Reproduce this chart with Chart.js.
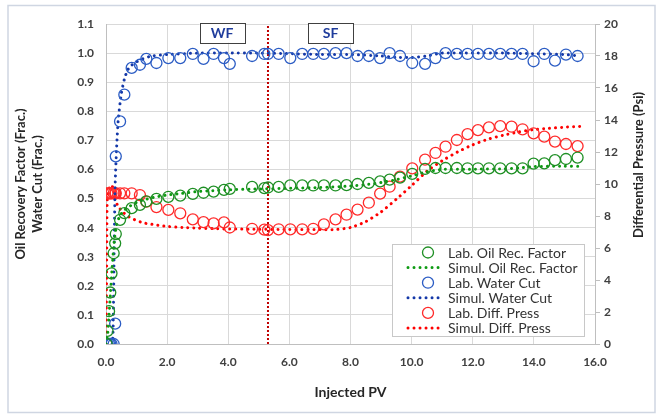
<!DOCTYPE html>
<html>
<head>
<meta charset="utf-8">
<script src="https://cdn.jsdelivr.net/npm/chart.js@4.4.0/dist/chart.umd.min.js"></script>
<style>
  html, body { margin: 0; padding: 0; background: #fff; }
</style>
</head>
<body>
<canvas id="recovery-canvas" width="660" height="420"></canvas>
<script>
// Datos de laboratorio (mismo PV para las tres medidas)
const labPV = [0.02, 0.05, 0.10, 0.14, 0.18, 0.25, 0.30, 0.32, 0.46, 0.60, 0.84, 1.11, 1.32, 1.65, 2.04, 2.43,
  2.84, 3.19, 3.52, 3.86, 4.05, 4.78, 5.18, 5.30, 5.65, 6.03, 6.42, 6.78, 7.13, 7.51, 7.87, 8.23, 8.60, 8.97,
  9.28, 9.62, 10.02, 10.44, 10.78, 11.11, 11.48, 11.83, 12.17, 12.53, 12.90, 13.27, 13.63, 13.99, 14.34, 14.69,
  15.05, 15.43];
const labOilRF = [0, 0.045, 0.113, 0.177, 0.243, 0.312, 0.346, 0.378, 0.427, 0.45, 0.467, 0.478, 0.49, 0.499,
  0.506, 0.51, 0.516, 0.52, 0.524, 0.53, 0.533, 0.54, 0.536, 0.538, 0.54, 0.545, 0.545, 0.545, 0.545, 0.545,
  0.546, 0.55, 0.554, 0.559, 0.565, 0.572, 0.585, 0.602, 0.605, 0.605, 0.605, 0.604, 0.604, 0.604, 0.604, 0.604,
  0.604, 0.62, 0.621, 0.632, 0.636, 0.641];
const labWaterCut = [0, 0, 0, 0, 0, 0, 0.07, 0.645, 0.765, 0.857, 0.949, 0.96, 0.98, 0.966, 0.983, 0.983, 0.997,
  0.98, 0.997, 0.983, 0.963, 0.99, 0.997, 0.997, 0.997, 0.983, 0.997, 0.997, 0.997, 1.0, 1.0, 0.99, 0.99, 0.983,
  1.0, 0.99, 0.966, 0.963, 0.983, 1.0, 0.997, 0.997, 0.997, 0.997, 0.997, 0.997, 0.997, 0.972, 0.997, 0.974,
  0.995, 0.99];
const labDiffPress = [0, 9.42, 9.42, 9.42, 9.42, 9.42, 9.42, 9.42, 9.42, 9.42, 9.42, 9.31, 8.9, 8.56, 8.38, 8.17,
  7.79, 7.62, 7.54, 7.6, 7.28, 7.2, 7.15, 7.12, 7.17, 7.17, 7.17, 7.2, 7.48, 7.79, 8.08, 8.4, 8.83, 9.4, 9.83,
  10.46, 10.98, 11.52, 11.94, 12.33, 12.75, 13.12, 13.37, 13.54, 13.62, 13.58, 13.42, 13.17, 12.96, 12.65, 12.5,
  12.37];

// Resultados de simulación
const simOilPV = [0, 0.05, 0.1, 0.15, 0.2, 0.25, 0.3, 0.35, 0.45, 0.6, 0.8, 1.0, 1.3, 1.6, 2.0, 2.5, 3.0, 3.5,
  4.0, 5.0, 6.0, 7.0, 8.0, 8.5, 9.0, 9.5, 10.0, 10.5, 11.0, 12.0, 13.0, 13.5, 14.0, 15.0, 15.5];
const simOilRF = [0, 0.03, 0.1, 0.18, 0.26, 0.33, 0.38, 0.41, 0.44, 0.46, 0.475, 0.487, 0.497, 0.505, 0.512,
  0.518, 0.524, 0.527, 0.53, 0.533, 0.535, 0.538, 0.543, 0.548, 0.555, 0.565, 0.578, 0.592, 0.6, 0.601, 0.602,
  0.605, 0.61, 0.611, 0.611];
const simWcPV = [0, 0.2, 0.24, 0.27, 0.3, 0.35, 0.4, 0.5, 0.6, 0.7, 0.8, 1.0, 1.2, 1.5, 2.0, 3.0, 4.0, 5.0, 6.0,
  7.0, 8.0, 9.0, 9.5, 10.0, 10.5, 11.0, 12.0, 13.0, 14.0, 15.0, 15.5];
const simWaterCut = [0, 0, 0.1, 0.35, 0.55, 0.68, 0.77, 0.86, 0.91, 0.94, 0.955, 0.97, 0.98, 0.99, 0.995, 1.0,
  1.0, 1.0, 0.998, 0.995, 0.995, 0.99, 0.985, 0.985, 0.99, 1.0, 1.0, 1.0, 0.998, 0.995, 0.99];
const simDpPV = [0, 0.02, 0.04, 0.1, 0.18, 0.25, 0.3, 0.4, 0.55, 0.7, 0.9, 1.2, 1.6, 2.0, 2.5, 3.0, 3.5, 4.0,
  5.0, 6.0, 7.0, 7.5, 8.0, 8.5, 9.0, 9.5, 10.0, 10.5, 11.0, 11.5, 12.0, 12.5, 13.0, 13.5, 14.0, 14.5, 15.0, 15.5];
const simDiffPress = [0, 4, 9.0, 9.7, 9.95, 9.6, 9.0, 8.6, 8.25, 8.0, 7.8, 7.58, 7.45, 7.35, 7.28, 7.24, 7.21,
  7.19, 7.17, 7.15, 7.15, 7.15, 7.28, 7.65, 8.25, 9.05, 9.9, 10.8, 11.45, 12.0, 12.45, 12.8, 13.05, 13.25, 13.4,
  13.48, 13.55, 13.6];

// Cambio de inyección (WF -> SF) y etiquetas de las etapas
const switchPV = 5.3;
const stageLabels = ['WF', 'SF'];
const stagePV = [3.8, 7.35];

const leftTicks = { min: 0, max: 1.1, step: 0.1 };
const rightTicks = { min: 0, max: 20, step: 2 };
const xTicks = { min: 0, max: 16, step: 2 };

function toPoints(xs, ys){
    return xs.map((x, i) => ({ x: x, y: ys[i] }));
}

const GREEN = '#1e8f24', GREEN_SIM = '#0d9a12';
const BLUE = '#2b5cc4', BLUE_SIM = '#1438a8';
const RED = '#ff2a2a', RED_SIM = '#ff0000';

function labSet(label, data, color, axis){
    return {
        label: label, data: data, yAxisID: axis, showLine: false,
        pointStyle: 'circle', pointRadius: 5.5, pointBorderWidth: 1.3,
        pointBorderColor: color, pointBackgroundColor: 'rgba(0,0,0,0)', borderColor: color
    };
}

function simSet(label, data, color, axis){
    return {
        label: label, data: data, yAxisID: axis, showLine: true, pointRadius: 0,
        borderColor: color, borderWidth: 3, borderDash: [0.01, 6], borderCapStyle: 'round', tension: 0.2
    };
}

// Fondo y marco exterior
const framePlugin = {
    id: 'framePlugin',
    beforeDraw(chart){
        const ctx = chart.ctx;
        ctx.save();
        ctx.fillStyle = '#ffffff';
        ctx.fillRect(0, 0, chart.width, chart.height);
        ctx.strokeStyle = '#cfd6e2';
        ctx.lineWidth = 1.5;
        ctx.strokeRect(8, 5.5, 647, 407);
        ctx.restore();
    }
};

// Cajas WF / SF, título derecho y leyenda interior
const extrasPlugin = {
    id: 'extrasPlugin',
    afterDraw(chart){
        const ctx = chart.ctx;
        const xs = chart.scales.x, ys = chart.scales.y;
        ctx.save();

        stageLabels.forEach((txt, i) => {
            const cx = xs.getPixelForValue(stagePV[i]);
            const cy = ys.getPixelForValue(1.07);
            ctx.fillStyle = '#fff';
            ctx.fillRect(cx - 22.5, cy - 10, 45, 20);
            ctx.strokeStyle = '#404040';
            ctx.lineWidth = 1;
            ctx.strokeRect(Math.round(cx - 22.5) + 0.5, Math.round(cy - 10) + 0.5, 45, 20);
            ctx.fillStyle = '#1f3c9c';
            ctx.font = 'bold 14px Lato';
            ctx.textAlign = 'center';
            ctx.textBaseline = 'middle';
            ctx.fillText(txt, cx, cy + 1);
        });

        // título del eje derecho (leído de abajo hacia arriba)
        ctx.save();
        ctx.translate(639, 165);
        ctx.rotate(-Math.PI / 2);
        ctx.fillStyle = '#262626';
        ctx.font = 'bold 13px Lato';
        ctx.textAlign = 'center';
        ctx.textBaseline = 'middle';
        ctx.fillText('Differential Pressure (Psi)', 0, 0);
        ctx.restore();

        // leyenda
        const area = chart.chartArea;
        const w = 192, h = 92;
        const left = area.right - 11 - w, top = area.bottom - 8 - h;
        ctx.fillStyle = '#fff';
        ctx.fillRect(left, top, w, h);
        ctx.strokeStyle = '#c8c8c8';
        ctx.lineWidth = 1;
        ctx.strokeRect(Math.round(left) + 0.5, Math.round(top) + 0.5, w, h);
        ctx.font = '14px Lato';
        ctx.textAlign = 'left';
        ctx.textBaseline = 'middle';
        chart.data.datasets.slice(0, 6).forEach((ds, i) => {
            const y = top + 8.5 + i * 15.1;
            if (ds.showLine){
                ctx.save();
                ctx.strokeStyle = ds.borderColor;
                ctx.lineWidth = ds.borderWidth;
                ctx.lineCap = 'round';
                ctx.setLineDash(ds.borderDash);
                ctx.beginPath();
                ctx.moveTo(left + 16, y);
                ctx.lineTo(left + 52, y);
                ctx.stroke();
                ctx.restore();
            } else {
                ctx.strokeStyle = ds.pointBorderColor;
                ctx.lineWidth = ds.pointBorderWidth;
                ctx.beginPath();
                ctx.arc(left + 36, y, ds.pointRadius, 0, Math.PI * 2);
                ctx.stroke();
            }
            ctx.fillStyle = '#333';
            ctx.fillText(ds.label, left + 56, y + 0.5);
        });
        ctx.restore();
    }
};

function createRecoveryChart(){
    const ctx = document.getElementById('recovery-canvas').getContext('2d');
    const tickFont = { family: 'Lato', size: 12, weight: 'bold' };

    new Chart(ctx, {
        type: 'scatter',
        data: {
            datasets: [
                labSet('Lab. Oil Rec. Factor', toPoints(labPV, labOilRF), GREEN, 'y'),
                simSet('Simul. Oil Rec. Factor', toPoints(simOilPV, simOilRF), GREEN_SIM, 'y'),
                labSet('Lab. Water Cut', toPoints(labPV, labWaterCut), BLUE, 'y'),
                simSet('Simul. Water Cut', toPoints(simWcPV, simWaterCut), BLUE_SIM, 'y'),
                labSet('Lab. Diff. Press', toPoints(labPV, labDiffPress), RED, 'y2'),
                simSet('Simul. Diff. Press', toPoints(simDpPV, simDiffPress), RED_SIM, 'y2'),
                {
                    label: 'WF/SF', data: [{ x: switchPV, y: leftTicks.min }, { x: switchPV, y: leftTicks.max }],
                    yAxisID: 'y', showLine: true, pointRadius: 0, borderColor: '#c00000',
                    borderWidth: 2, borderDash: [2, 2]
                }
            ]
        },
        options: {
            responsive: false,
            animation: false,
            events: [],
            layout: { padding: { top: 24 } },
            plugins: { legend: { display: false }, tooltip: { enabled: false } },
            scales: {
                x: {
                    type: 'linear', min: xTicks.min, max: xTicks.max,
                    ticks: { stepSize: xTicks.step, padding: 11, color: '#404040', font: tickFont,
                             callback: v => v.toFixed(1) },
                    grid: { color: '#d9d9d9', drawTicks: false },
                    border: { color: '#bfbfbf' },
                    title: { display: true, text: 'Injected PV', color: '#262626',
                             font: { family: 'Lato', size: 14, weight: 'bold' }, padding: { top: 0, bottom: 19 } },
                    afterFit(scale){ scale.height = 76; }
                },
                y: {
                    position: 'left', min: leftTicks.min, max: leftTicks.max,
                    ticks: { stepSize: leftTicks.step, padding: 12, color: '#404040', font: tickFont,
                             callback: v => v.toFixed(1) },
                    grid: { color: '#d9d9d9', drawTicks: false },
                    border: { color: '#bfbfbf' },
                    title: { display: true, text: ['Oil Recovery Factor (Frac.)', 'Water Cut (Frac.)'],
                             color: '#262626', font: { family: 'Lato', size: 13, weight: 'bold', lineHeight: 1.3 },
                             padding: { top: 12, bottom: 0 } },
                    afterFit(scale){ scale.width = 106; }
                },
                y2: {
                    position: 'right', min: rightTicks.min, max: rightTicks.max,
                    ticks: { stepSize: rightTicks.step, padding: 4, color: '#404040', font: tickFont },
                    grid: { drawOnChartArea: false, tickLength: 5, tickColor: '#bfbfbf' },
                    border: { color: '#bfbfbf' },
                    afterFit(scale){ scale.width = 65; }
                }
            }
        },
        plugins: [framePlugin, extrasPlugin]
    });
}

createRecoveryChart();
</script>
</body>
</html>
